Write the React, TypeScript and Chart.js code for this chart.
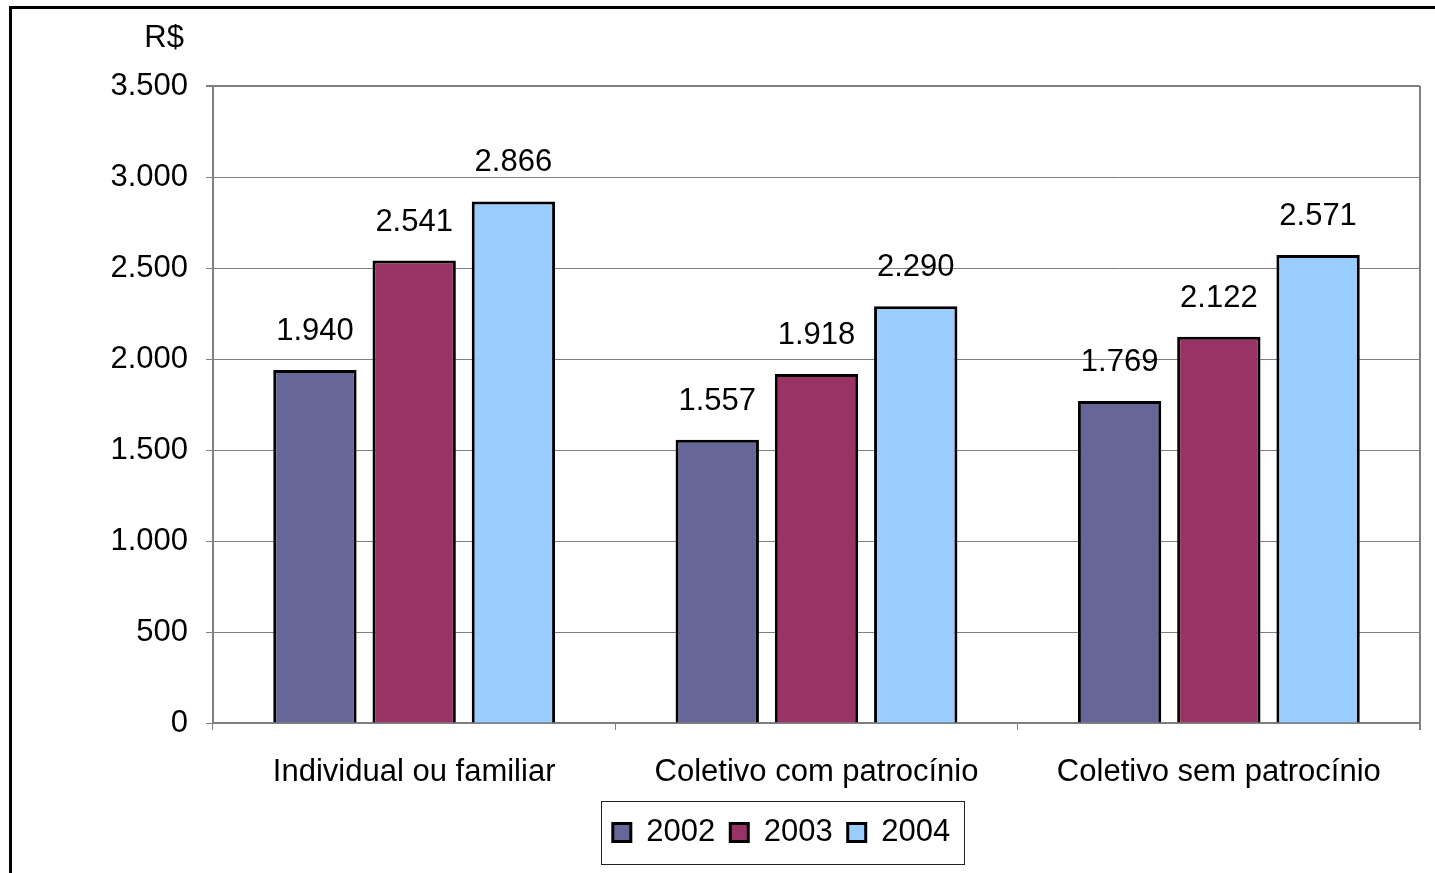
import React, { useEffect, useRef } from "react";
import { Chart, registerables } from "chart.js";

Chart.register(...registerables);

const categories = ["Individual ou familiar", "Coletivo com patrocínio", "Coletivo sem patrocínio"];
const seriesLabels = ["2002", "2003", "2004"];
const values2002 = [1940, 1557, 1769];
const values2003 = [2541, 1918, 2122];
const values2004 = [2866, 2290, 2571];
const seriesColors = ["#666699", "#993366", "#99CCFF"];
const yMin = 0;
const yMax = 3500;
const yStep = 500;
const unitLabel = "R$";

const FONT = "'Liberation Sans', Arial, Helvetica, sans-serif";
const FS = 31;
const GRID = "#808080";

const fmt = (v: number) => String(v).replace(/\B(?=(\d{3})+(?!\d))/g, ".");

const dataLabelPlugin = {
  id: "dataLabels",
  afterDatasetsDraw(chart: any) {
    const ctx = chart.ctx;
    ctx.save();
    ctx.font = `${FS}px ${FONT}`;
    ctx.fillStyle = "#000";
    ctx.textAlign = "center";
    ctx.textBaseline = "alphabetic";
    chart.data.datasets.forEach((ds: any, i: number) => {
      const meta = chart.getDatasetMeta(i);
      meta.data.forEach((el: any, j: number) => {
        ctx.fillText(fmt(ds.data[j]), el.x, el.y - 30);
      });
    });
    ctx.restore();
  },
};

const unitPlugin = {
  id: "unitLabel",
  afterDraw(chart: any) {
    const ctx = chart.ctx;
    const ca = chart.chartArea;
    ctx.save();
    ctx.font = `${FS}px ${FONT}`;
    ctx.fillStyle = "#000";
    ctx.textAlign = "right";
    ctx.textBaseline = "middle";
    ctx.fillText(unitLabel, ca.left - 29, ca.top - 48);
    ctx.restore();
  },
};

const legendShiftPlugin = {
  id: "legendShift",
  afterLayout(chart: any) {
    const lg = chart.legend;
    const ca = chart.chartArea;
    if (!lg) return;
    lg.left = ca.left;
    lg.right = ca.right - 70;
    lg.width = lg.right - lg.left;
  },
  afterDraw(chart: any) {
    const lg = chart.legend;
    if (!lg || !lg.legendHitBoxes || !lg.legendHitBoxes.length) return;
    const hb = lg.legendHitBoxes;
    const first = hb[0];
    const last = hb[hb.length - 1];
    const ctx = chart.ctx;
    ctx.save();
    ctx.strokeStyle = "#222";
    ctx.lineWidth = 1;
    const l = Math.round(first.left - 12) + 0.5;
    const t = Math.round(first.top - 16) + 0.5;
    const r = Math.round(last.left + last.width + 14) + 0.5;
    const b = Math.round(first.top + first.height + 16) + 0.5;
    ctx.strokeRect(l, t, r - l, b - t);
    ctx.restore();
  },
};

export default function App() {
  const ref = useRef<HTMLCanvasElement | null>(null);

  useEffect(() => {
    if (!ref.current) return;
    const seriesValues = [values2002, values2003, values2004];
    const isEdge = (c: any) => c.index === undefined || c.index >= categories.length;
    const chart = new Chart(ref.current, {
      type: "bar",
      data: {
        labels: categories,
        datasets: seriesLabels.map((label, i) => ({
          label,
          data: seriesValues[i],
          backgroundColor: seriesColors[i],
          borderColor: "#000",
          borderWidth: 3,
          categoryPercentage: 0.74,
          barPercentage: 0.84,
        })),
      },
      options: {
        animation: false,
        responsive: true,
        maintainAspectRatio: false,
        devicePixelRatio: 1,
        layout: { padding: { top: 86, right: 15, left: 0, bottom: 15 } },
        plugins: {
          title: { display: false },
          tooltip: { enabled: false },
          legend: {
            position: "bottom",
            labels: {
              font: { family: FONT, size: FS },
              color: "#000",
              boxWidth: 18,
              boxHeight: 18,
              padding: 15,
            },
          },
        },
        scales: {
          x: {
            afterFit: (s: any) => {
              s.height = 79;
            },
            grid: {
              offset: true,
              drawOnChartArea: true,
              drawTicks: true,
              tickLength: 7,
              tickColor: GRID,
              color: (c: any) => (isEdge(c) ? GRID : "rgba(0,0,0,0)"),
              lineWidth: (c: any) => (isEdge(c) ? 2 : 1),
            },
            border: { display: true, color: GRID, width: 2 },
            ticks: {
              font: { family: FONT, size: FS },
              color: "#000",
              padding: 24,
              maxRotation: 0,
              autoSkip: false,
            },
          },
          y: {
            min: yMin,
            max: yMax,
            afterFit: (s: any) => {
              s.width = 213;
            },
            grid: {
              color: GRID,
              lineWidth: (c: any) => (c.tick && c.tick.value === yMax ? 2 : 1),
              drawTicks: true,
              tickLength: 7,
              tickColor: GRID,
            },
            border: { display: true, color: GRID, width: 2 },
            ticks: {
              stepSize: yStep,
              font: { family: FONT, size: FS },
              color: "#000",
              padding: 18,
              callback: (v: any) => fmt(Number(v)),
            },
          },
        },
      },
      plugins: [dataLabelPlugin, unitPlugin, legendShiftPlugin],
    } as any);
    return () => chart.destroy();
  }, []);

  return (
    <div
      style={{
        position: "fixed",
        left: 0,
        top: 0,
        width: 1435,
        height: 873,
        overflow: "hidden",
        background: "#fff",
      }}
    >
      <div
        style={{
          position: "absolute",
          left: 9,
          top: 6,
          width: 3000,
          height: 3000,
          border: "3px solid #000",
        }}
      />
      <div style={{ position: "absolute", left: 0, top: 0, width: 1435, height: 873 }}>
        <canvas ref={ref} />
      </div>
    </div>
  );
}
